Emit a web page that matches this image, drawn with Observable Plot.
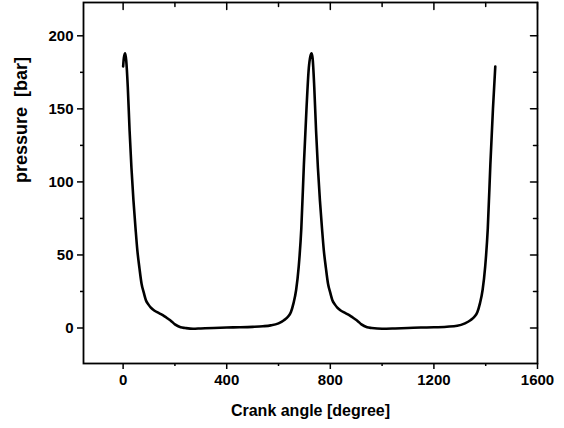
<!DOCTYPE html>
<html>
<head>
<meta charset="utf-8">
<script src="https://cdn.jsdelivr.net/npm/d3@7"></script>
<script src="https://cdn.jsdelivr.net/npm/@observablehq/plot@0.6"></script>
<style>
  body { margin: 0; background: #fff; }
  #chart svg { display: block; }
</style>
</head>
<body>
<div id="chart"></div>
<script>
const angle = [0, 3, 8, 12, 18, 25, 32, 40, 48, 55, 63, 71, 80, 88, 98, 107, 120, 135, 146, 160, 172, 184, 200, 222, 240, 270, 300, 350, 400, 450, 500, 540, 570, 600, 621, 638, 648, 658, 668, 678, 688, 698, 708, 717, 723, 728, 732, 738, 745, 752, 760, 768, 775, 783, 791, 800, 808, 818, 827, 840, 855, 866, 880, 892, 904, 920, 942, 960, 1000, 1050, 1100, 1150, 1200, 1250, 1290, 1320, 1341, 1358, 1368, 1378, 1388, 1398, 1408, 1418, 1428, 1437];
const pressure = [179, 185, 188, 183, 165, 135, 110, 87, 68, 53, 41, 30.5, 24, 19, 16, 14, 12, 10.5, 9.5, 8, 6.5, 5, 2.5, 0.5, 0, -0.5, -0.3, 0, 0.3, 0.5, 0.8, 1.2, 1.8, 3.2, 5.3, 8, 11, 17, 26, 42, 68, 112, 150, 178, 186, 188, 184, 165, 135, 110, 87, 68, 53, 41, 30.5, 24, 19, 16, 14, 12, 10.5, 9.5, 8, 6.5, 5, 2.5, 0.5, 0, -0.5, -0.3, 0, 0.3, 0.5, 0.9, 1.5, 3.2, 5.3, 8, 11, 17, 26, 42, 68, 112, 150, 179];

const xMajor = [0, 400, 800, 1200, 1600];
const xMinor = [200, 600, 1000, 1400];
const yMajor = [0, 50, 100, 150, 200];
const yMinor = [25, 75, 125, 175];

const xTitle = "Crank angle [degree]";
const yTitle = "pressure\u00a0 [bar]";

const data = angle.map((a, i) => ({angle: a, pressure: pressure[i]}));

// simple line shape for inward ticks drawn by the vector mark
const tickShape = {draw(context, l) { context.moveTo(0, 0); context.lineTo(0, -l); }};

const chart = Plot.plot({
  width: 564,
  height: 428,
  marginLeft: 83,
  marginRight: 27,
  marginTop: 2,
  marginBottom: 65,
  x: {domain: [-153, 1600]},
  y: {domain: [-24.3, 222.8]},
  style: {fontFamily: "'Liberation Sans', Arial, sans-serif", fontSize: "15px", fontWeight: "bold", color: "#000", background: "#fff"},
  marks: [
    Plot.axisX({ticks: xMajor, tickSize: 6, tickPadding: 5, strokeWidth: 1.5, tickFormat: "d", label: null}),
    Plot.axisX({ticks: xMinor, tickSize: 3, strokeWidth: 1.5, text: null, label: null}),
    Plot.vector(xMajor, {x: d => d, frameAnchor: "top", length: 7, rotate: 180, anchor: "start", shape: tickShape, stroke: "#000", strokeWidth: 1.5}),
    Plot.vector(xMinor, {x: d => d, frameAnchor: "top", length: 4, rotate: 180, anchor: "start", shape: tickShape, stroke: "#000", strokeWidth: 1.5}),
    Plot.axisY({ticks: yMajor, tickSize: 6, tickPadding: 4, strokeWidth: 1.5, tickFormat: "d", label: null}),
    Plot.axisY({ticks: yMinor, tickSize: 3, strokeWidth: 1.5, text: null, label: null}),
    Plot.vector(yMajor, {y: d => d, frameAnchor: "right", length: 7, rotate: -90, anchor: "start", shape: tickShape, stroke: "#000", strokeWidth: 1.5}),
    Plot.vector(yMinor, {y: d => d, frameAnchor: "right", length: 4, rotate: -90, anchor: "start", shape: tickShape, stroke: "#000", strokeWidth: 1.5}),
    Plot.text([xTitle], {text: d => d, frameAnchor: "bottom", dy: 52, fontSize: 16, fontWeight: "bold", fill: "#000"}),
    Plot.text([yTitle], {text: d => d, frameAnchor: "left", dx: -62, rotate: -90, fontSize: 18, fontWeight: "bold", fill: "#000"}),
    Plot.frame({strokeWidth: 1.8}),
    Plot.line(data, {x: "angle", y: "pressure", stroke: "#000", strokeWidth: 2.6, curve: "monotone-x"})
  ]
});
document.getElementById("chart").append(chart);
</script>
</body>
</html>
